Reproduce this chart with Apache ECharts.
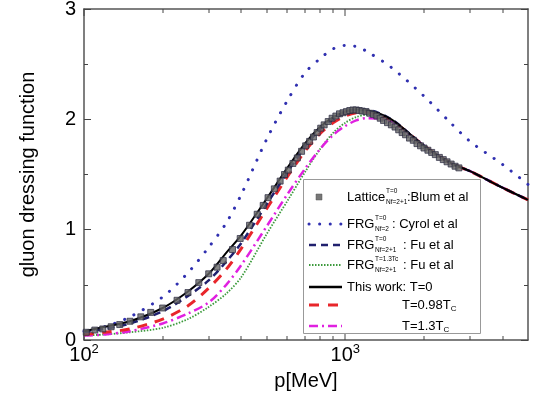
<!DOCTYPE html>
<html><head><meta charset="utf-8">
<script src="https://cdn.jsdelivr.net/npm/echarts@6/dist/echarts.min.js"></script>
<style>html,body{margin:0;padding:0;background:#fff}#c{width:536px;height:409px}</style>
</head><body><div id="c"></div>
<script>
// momentum grid (MeV) shared by the curves
const pValues = [100,120,150,200,250,300,350,400,500,600,700,800,900,1000,1100,1200,1500,2000,2500,3000,4000,5000];
const thisWorkT0   = [0.08,0.12,0.17,0.29,0.44,0.60,0.79,0.95,1.28,1.56,1.78,1.93,2.02,2.07,2.09,2.085,2.00,1.76,1.61,1.53,1.38,1.27];
const thisWork098  = [0.05,0.07,0.10,0.19,0.31,0.47,0.64,0.83,1.19,1.48,1.71,1.87,1.97,2.03,2.06,2.065,1.99,1.76,1.61,1.53,1.38,1.27];
const thisWork13   = [0.04,0.05,0.08,0.15,0.24,0.34,0.50,0.68,1.03,1.32,1.55,1.73,1.86,1.94,1.99,2.01,1.98,1.76,1.61,1.53,1.38,1.27];
const frgCyrol     = [0.08,0.12,0.21,0.39,0.61,0.84,1.06,1.32,1.82,2.17,2.42,2.55,2.64,2.67,2.66,2.62,2.47,2.21,1.98,1.80,1.59,1.41];
const frgFuT0      = [0.07,0.10,0.15,0.26,0.40,0.54,0.71,0.88,1.23,1.52,1.75,1.91,2.00,2.06,2.085,2.085,2.00,1.76,1.61,1.53,1.38,1.27];
const frgFu13      = [0.04,0.05,0.07,0.11,0.19,0.30,0.42,0.57,0.96,1.26,1.52,1.73,1.88,1.97,2.02,2.04,1.99,1.76,1.61,1.53,1.38,1.27];
// lattice data (Blum et al)
const latticeP = [102,110,118,127,137,150,165,180,200,227,250,275,300,323,341,370,396,430,460,485,506,535,563,585,605,630,655,680,705,730,755,780,805,830,860,890,920,950,980,1010,1040,1070,1100,1130,1160,1200,1240,1280,1320,1360,1400,1450,1500,1550,1600,1650,1700,1760,1820,1880,1940,2000,2070,2140,2210,2290,2370,2450,2540,2630,2720];
const latticeV = [0.07,0.09,0.10,0.12,0.14,0.17,0.21,0.25,0.29,0.36,0.43,0.52,0.60,0.66,0.72,0.82,0.92,1.04,1.14,1.22,1.29,1.37,1.44,1.50,1.54,1.60,1.65,1.71,1.76,1.80,1.84,1.88,1.92,1.95,1.98,2.01,2.03,2.05,2.06,2.07,2.08,2.085,2.085,2.08,2.075,2.07,2.055,2.045,2.03,2.01,1.99,1.97,1.95,1.93,1.905,1.88,1.86,1.83,1.81,1.78,1.76,1.74,1.72,1.70,1.68,1.655,1.635,1.615,1.595,1.575,1.56];
// axis ticks
const xMajorTicks = [100, 1000];
const xMinorTicks = [200,300,400,500,600,700,800,900,2000,3000,4000];
const yMin = 0, yMax = 3;

const F = '"Liberation Sans", Arial, Helvetica, sans-serif';
const axisColor = '#444';
const pair = arr => pValues.map((p,i)=>[p, arr[i]]);

const chart = echarts.init(document.getElementById('c'));

function lineSeries(name, arr, color, width, dash, cap) {
  return { name, type:'line', data: pair(arr), smooth: 0.3, showSymbol:false, symbol:'none',
    xAxisIndex:0, yAxisIndex:0, z: 3,
    lineStyle:{ color, width, type: dash || 'solid', cap: cap || 'butt' } };
}

function legendText(x, y, t, size) {
  return { type:'text', x, y, z:101, style:{ text:t, fontSize:size, fontFamily:F, fill:'#000', align:'left', verticalAlign:'middle' } };
}
function legendLine(y, color, width, dash, cap) {
  return { type:'line', z:101, shape:{ x1:309, y1:y, x2:342, y2:y }, style:{ stroke:color, lineWidth:width, lineDash:dash || null, lineCap:cap || 'butt' } };
}
const rowY = [197, 224, 245, 265, 287, 305, 326];
const graphics = [
  { type:'rect', z:100, shape:{ x:303.5, y:179.5, width:177, height:154 }, style:{ fill:'#fff', stroke:'#999', lineWidth:1 } },
  { type:'rect', z:101, shape:{ x:316, y:rowY[0]-3, width:6, height:6 }, style:{ fill:'#777', stroke:'#555', lineWidth:0.5 } },
  legendText(347, rowY[0], 'Lattice', 13),
  legendText(386, rowY[0]-6, 'T=0', 6.5),
  legendText(386, rowY[0]+5, 'Nf=2+1', 6.5),
  legendText(407, rowY[0], ':Blum et al', 13),

  legendLine(rowY[1], '#3030b0', 3, [0.1, 10.5], 'round'),
  legendText(347, rowY[1], 'FRG', 13),
  legendText(375, rowY[1]-6, 'T=0', 6.5),
  legendText(375, rowY[1]+5, 'Nf=2', 6.5),
  legendText(392, rowY[1], ': Cyrol et al', 13),

  legendLine(rowY[2], '#20206e', 2.5, [7, 5]),
  legendText(347, rowY[2], 'FRG', 13),
  legendText(375, rowY[2]-6, 'T=0', 6.5),
  legendText(375, rowY[2]+5, 'Nf=2+1', 6.5),
  legendText(403, rowY[2], ': Fu et al', 13),

  legendLine(rowY[3], '#3c9a3c', 1.8, [1.5, 1.5]),
  legendText(347, rowY[3], 'FRG', 13),
  legendText(375, rowY[3]-6, 'T=1.3Tc', 6.5),
  legendText(375, rowY[3]+5, 'Nf=2+1', 6.5),
  legendText(403, rowY[3], ': Fu et al', 13),

  legendLine(rowY[4], '#000', 2.5),
  legendText(347, rowY[4], 'This work: T=0', 13),

  legendLine(rowY[5], '#e8262b', 3, [10, 9]),
  { type:'text', x:402, y:rowY[5], z:101, style:{ text:'{m|T=0.98T}{s|C}', verticalAlign:'middle', align:'left',
      rich:{ m:{ fontSize:13, fontFamily:F, fill:'#000' }, s:{ fontSize:8, fontFamily:F, fill:'#000', padding:[7,0,0,0] } } } },

  legendLine(rowY[6], '#e020e0', 2.5, [9, 4, 2, 4]),
  { type:'text', x:402, y:rowY[6], z:101, style:{ text:'{m|T=1.3T}{s|C}', verticalAlign:'middle', align:'left',
      rich:{ m:{ fontSize:13, fontFamily:F, fill:'#000' }, s:{ fontSize:8, fontFamily:F, fill:'#000', padding:[7,0,0,0] } } } }
];

// x-axis tick marks (log decades + minor), drawn through the axis scale
const tickData = xMajorTicks.map(v => [v, 7]).concat(xMinorTicks.map(v => [v, 4]));
function renderTick(params, api) {
  const v = api.value(0), len = api.value(1);
  const b = api.coord([v, yMin]), t = api.coord([v, yMax]);
  const x = Math.round(b[0]);
  const st = { stroke: axisColor, lineWidth: 1 };
  return { type:'group', children:[
    { type:'line', shape:{ x1:x, y1:b[1], x2:x, y2:b[1] - len }, style: st },
    { type:'line', shape:{ x1:x, y1:t[1], x2:x, y2:t[1] + len }, style: st }
  ] };
}

const option = {
  backgroundColor:'#fff',
  animation:false,
  grid:{ left:84, right:8, top:9, bottom:69, containLabel:false, outerBoundsMode:'none' },
  xAxis:[
    { type:'log', logBase:10, min:100, max:5000, position:'bottom',
      name:'p[MeV]', nameLocation:'middle', nameGap:31,
      nameTextStyle:{ fontSize:20, fontFamily:F, color:'#000' },
      axisLine:{ show:true, onZero:false, lineStyle:{ color:'#555', width:1.5 } },
      axisTick:{ show:false }, minorTick:{ show:false },
      axisLabel:{ show:true, margin:3, showMaxLabel:false,
        formatter: v => (v > 1000 ? '' : '{b|10}{s|' + Math.round(Math.log10(v)) + '}'),
        rich:{ b:{ fontSize:20, fontFamily:F, color:'#000' }, s:{ fontSize:13, fontFamily:F, color:'#000', padding:[0,0,12,0] } } },
      splitLine:{ show:false }, minorSplitLine:{ show:false } },
    { type:'log', logBase:10, min:100, max:5000, position:'top',
      axisLine:{ show:true, onZero:false, lineStyle:{ color:'#555', width:1.5 } },
      axisTick:{ show:false }, minorTick:{ show:false },
      axisLabel:{ show:false }, splitLine:{ show:false } }
  ],
  yAxis:[
    { type:'value', min:yMin, max:yMax, interval:1, position:'left',
      name:'gluon dressing function', nameLocation:'middle', nameGap:46,
      nameTextStyle:{ fontSize:20, fontFamily:F, color:'#000' },
      axisLine:{ show:true, onZero:false, lineStyle:{ color:'#555', width:1.5 } },
      axisTick:{ show:true, inside:true, length:7, lineStyle:{ color:axisColor, width:1 } },
      minorTick:{ show:true, splitNumber:2, length:4, lineStyle:{ color:axisColor, width:1 } },
      axisLabel:{ show:true, margin:8, fontSize:20, fontFamily:F, color:'#000' },
      splitLine:{ show:false } },
    { type:'value', min:yMin, max:yMax, interval:1, position:'right',
      axisLine:{ show:true, onZero:false, lineStyle:{ color:'#555', width:1.5 } },
      axisTick:{ show:true, inside:true, length:7, lineStyle:{ color:axisColor, width:1 } },
      minorTick:{ show:true, splitNumber:2, length:4, lineStyle:{ color:axisColor, width:1 } },
      axisLabel:{ show:false }, splitLine:{ show:false } }
  ],
  series:[
    { type:'custom', name:'xticks', xAxisIndex:0, yAxisIndex:0, data: tickData, renderItem: renderTick,
      silent:true, clip:false, z:10, encode:{ x:0, y:-1 } },
    lineSeries('FRG Nf=2 T=0: Cyrol et al', frgCyrol, '#3030b0', 3, [0.1, 10.5], 'round'),
    lineSeries('FRG Nf=2+1 T=1.3Tc: Fu et al', frgFu13, '#3c9a3c', 1.8, [1.5, 1.5]),
    lineSeries('T=1.3Tc', thisWork13, '#e020e0', 2.5, [9, 4, 2, 4]),
    lineSeries('T=0.98Tc', thisWork098, '#e8262b', 3, [10, 8]),
    lineSeries('FRG Nf=2+1 T=0: Fu et al', frgFuT0, '#20206e', 2.5, [7, 5]),
    { name:'Lattice Nf=2+1 T=0: Blum et al', type:'scatter', xAxisIndex:0, yAxisIndex:0, z:4,
      data: latticeP.map((p,i)=>[p, latticeV[i]]), symbol:'rect', symbolSize:6,
      itemStyle:{ color:'#666', borderColor:'#2a2a40', borderWidth:0.9 } },
    lineSeries('This work: T=0', thisWorkT0, '#000', 2),
  ],
  graphic: graphics
};
chart.setOption(option);
</script></body></html>
